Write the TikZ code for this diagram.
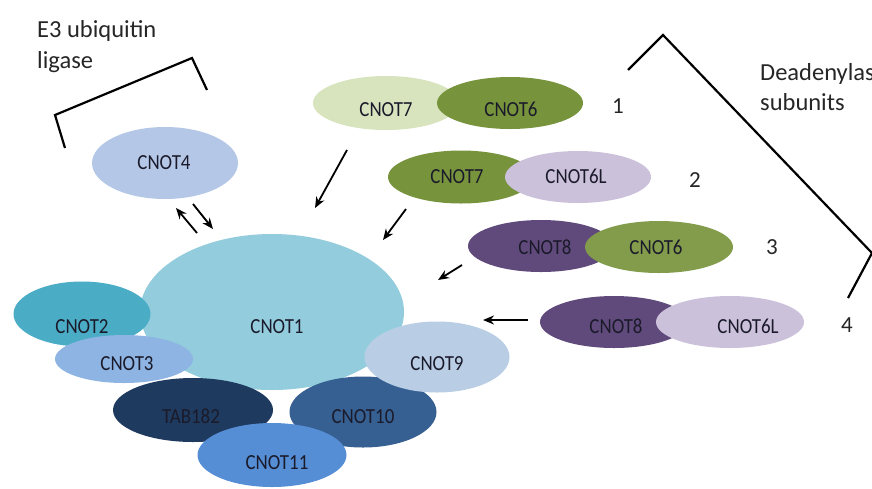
\documentclass[tikz,border=0pt]{standalone}
\usepackage{fontspec}
\setmainfont{Carlito}
\newfontfamily\lblfont[FakeStretch=0.88]{Carlito}
\usetikzlibrary{shapes.geometric,arrows.meta}
\definecolor{cFour}{HTML}{B4C7E7}
\definecolor{cPaleGreen}{HTML}{D7E4BD}
\definecolor{cGreen}{HTML}{77933C}
\definecolor{cLav}{HTML}{CCC1DA}
\definecolor{cPurple}{HTML}{604A7B}
\definecolor{cOne}{HTML}{93CDDD}
\definecolor{cTwo}{HTML}{4BACC6}
\definecolor{cThree}{HTML}{8EB4E3}
\definecolor{cNine}{HTML}{B9CDE5}
\definecolor{cTab}{HTML}{1F3A5F}
\definecolor{cTen}{HTML}{376092}
\definecolor{cEleven}{HTML}{558ED5}
\definecolor{cTxt}{HTML}{1A1A2A}
\tikzset{
  prot/.style={ellipse, draw=none, inner sep=0pt},
  lbl/.style={inner sep=0pt, text height=13.5pt, text depth=0pt, text=cTxt, font=\lblfont\fontsize{21.5}{21.5}\selectfont},
  num/.style={inner sep=0pt, text height=15pt, text depth=0pt, text=black!85, font=\fontsize{23}{23}\selectfont},
  captxt/.style={inner sep=0pt, anchor=base west, text=black!85, font=\fontsize{24.5}{24.5}\selectfont},
  arr/.style={line width=1.8pt, -{Stealth[length=11pt,width=9pt]}},
  brk/.style={line width=2.2pt, line join=miter}
}
\begin{document}
\begin{tikzpicture}[x=1pt,y=-1pt]
\useasboundingbox (0,0) rectangle (872,488);
\clip (0,0) rectangle (872,488);
\fill[white] (0,0) rectangle (872,488);

% captions
\node[captxt] (e3a) at (37,37) {E3 ubiquitin};
\node[captxt] (e3b) at (37,68) {ligase};
\node[captxt] (dea) at (760,80) {Deadenylase};
\node[captxt] (deb) at (760,110) {subunits};

% brackets
\draw[brk] (65,148) -- (55,115) -- (192,58) -- (207,90);
\draw[brk] (628,70) -- (663,35) -- (872,253) -- (848,298);

% CNOT4
\node[prot, fill=cFour, minimum width=146pt, minimum height=72pt] (cnot4) at (165,163) {};
\node[lbl] (cnot4t) at (164,163) {CNOT4};

% deadenylase pairs
\node[prot, fill=cPaleGreen, minimum width=146pt, minimum height=54pt] (p1a) at (386,103) {};
\node[prot, fill=cGreen, minimum width=146pt, minimum height=52pt] (p1b) at (510,103) {};
\node[lbl] (p1at) at (386,110) {CNOT7};
\node[lbl] (p1bt) at (511,110) {CNOT6};
\node[num] (n1) at (618,106) {1};

\node[prot, fill=cGreen, minimum width=146pt, minimum height=53pt] (p2a) at (461,177) {};
\node[prot, fill=cLav, minimum width=146pt, minimum height=52pt] (p2b) at (578,177) {};
\node[lbl] (p2at) at (457,177) {CNOT7};
\node[lbl] (p2bt) at (576,177) {CNOT6L};
\node[num] (n2) at (695,180) {2};

\node[prot, fill=cPurple, minimum width=146pt, minimum height=52pt] (p3a) at (541,246) {};
\node[prot, fill=cGreen!92!white, minimum width=148pt, minimum height=52pt] (p3b) at (659,247) {};
\node[lbl] (p3at) at (545,248) {CNOT8};
\node[lbl] (p3bt) at (656,248) {CNOT6};
\node[num] (n3) at (772,247) {3};

\node[prot, fill=cPurple, minimum width=148pt, minimum height=52pt] (p4a) at (614,322) {};
\node[prot, fill=cLav, minimum width=148pt, minimum height=52pt] (p4b) at (730,322) {};
\node[lbl] (p4at) at (616,327) {CNOT8};
\node[lbl] (p4bt) at (748,327) {CNOT6L};
\node[num] (n4) at (847,325) {4};

% core complex
\node[prot, fill=cOne, minimum width=264pt, minimum height=156pt] (cnot1) at (272,312) {};
\node[prot, fill=cTwo, minimum width=137pt, minimum height=65pt] (cnot2) at (82,314) {};
\node[prot, fill=cThree, minimum width=138pt, minimum height=48pt] (cnot3) at (124,359) {};
\node[prot, fill=cTab, minimum width=160pt, minimum height=64pt] (tab) at (193,410) {};
\node[prot, fill=cTen, minimum width=147pt, minimum height=71pt] (cnot10) at (363,412) {};
\node[prot, fill=cNine, minimum width=145pt, minimum height=71pt] (cnot9) at (437,357) {};
\node[prot, fill=cEleven, minimum width=149pt, minimum height=64pt] (cnot11) at (272,455) {};

\node[lbl] (cnot1t) at (277,327) {CNOT1};
\node[lbl] (cnot2t) at (82,327) {CNOT2};
\node[lbl] (cnot3t) at (127,364) {CNOT3};
\node[lbl] (cnot9t) at (437,364) {CNOT9};
\node[lbl] (tabt) at (191,417) {TAB182};
\node[lbl] (cnot10t) at (363,417) {CNOT10};
\node[lbl] (cnot11t) at (277,463) {CNOT11};

% arrows
\coordinate (a1s) at (347,150); \coordinate (a1e) at (315,208);
\coordinate (a2s) at (406,209); \coordinate (a2e) at (383,240);
\coordinate (a3s) at (462,265); \coordinate (a3e) at (438,280);
\coordinate (a4s) at (528,320); \coordinate (a4e) at (483,320);
\coordinate (d1s) at (197,233); \coordinate (d1e) at (176,208);
\coordinate (d2s) at (193,204); \coordinate (d2e) at (213,229);
\draw[arr] (a1s) -- (a1e);
\draw[arr] (a2s) -- (a2e);
\draw[arr] (a3s) -- (a3e);
\draw[arr] (a4s) -- (a4e);
\draw[arr] (d1s) -- (d1e);
\draw[arr] (d2s) -- (d2e);
\end{tikzpicture}
\end{document}
